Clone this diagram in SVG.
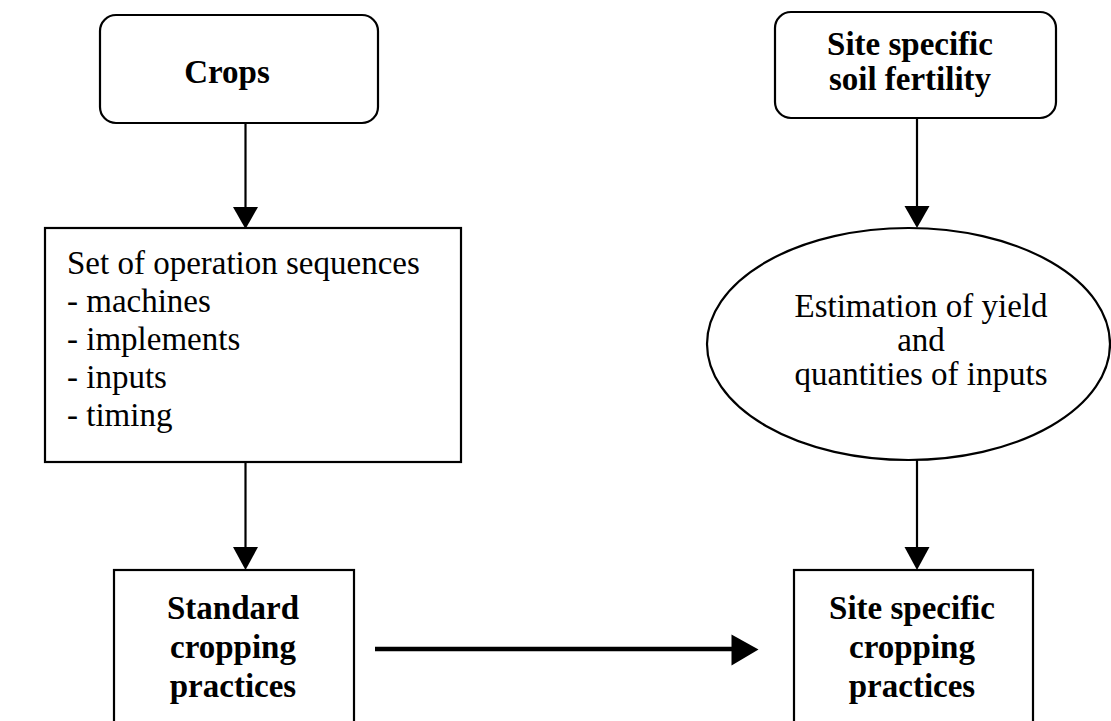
<svg xmlns="http://www.w3.org/2000/svg" width="1111" height="721" viewBox="0 0 1111 721">
  <defs>
    <style>
      .box { fill: #fff; stroke: #000; stroke-width: 2.2; }
      .t { font-family: "Liberation Serif", "Times New Roman", serif; font-size: 33px; fill: #000; }
      .b { font-weight: bold; }
      .c { text-anchor: middle; }
      .line { stroke: #000; stroke-width: 2.2; fill: none; }
      .thick { stroke: #000; stroke-width: 4.5; fill: none; }
      .head { fill: #000; }
    </style>
  </defs>
  <rect width="1111" height="721" fill="#fff"/>

  <g id="connectors">
    <!-- Crops to operation sequences -->
    <line class="line" x1="245.5" y1="123" x2="245.5" y2="208"/>
    <polygon class="head" points="233,207 258,207 245.5,229"/>
    <!-- operation sequences to standard practices -->
    <line class="line" x1="245.5" y1="462" x2="245.5" y2="548"/>
    <polygon class="head" points="233,547 258,547 245.5,570"/>
    <!-- soil fertility to estimation -->
    <line class="line" x1="917" y1="118" x2="917" y2="207"/>
    <polygon class="head" points="904.5,206 929.5,206 917,228"/>
    <!-- estimation to site specific practices -->
    <line class="line" x1="917" y1="460" x2="917" y2="548"/>
    <polygon class="head" points="904.5,547 929.5,547 917,570"/>
    <!-- standard to site specific practices -->
    <line class="thick" x1="375" y1="649" x2="733" y2="649"/>
    <polygon class="head" points="731.5,634.5 758.5,649.5 731.5,665.5"/>
  </g>

  <g id="crops">
    <rect class="box" x="100" y="15" width="278" height="108" rx="16"/>
    <text class="t b c" x="227" y="83">Crops</text>
  </g>

  <g id="soil-fertility">
    <rect class="box" x="775" y="12" width="281" height="106" rx="16"/>
    <text class="t b c" x="910" y="55">Site specific</text>
    <text class="t b c" x="910" y="90">soil fertility</text>
  </g>

  <g id="operation-sequences">
    <rect class="box" x="45" y="228" width="416" height="234"/>
    <text class="t" x="67" y="274">Set of operation sequences</text>
    <text class="t" x="67" y="312">- machines</text>
    <text class="t" x="67" y="350">- implements</text>
    <text class="t" x="67" y="388">- inputs</text>
    <text class="t" x="67" y="426">- timing</text>
  </g>

  <g id="estimation">
    <ellipse class="box" cx="908.5" cy="344" rx="201.5" ry="116"/>
    <text class="t c" x="921" y="317">Estimation of yield</text>
    <text class="t c" x="921" y="351">and</text>
    <text class="t c" x="921" y="385">quantities of inputs</text>
  </g>

  <g id="standard-practices">
    <rect class="box" x="114" y="570" width="240" height="170"/>
    <text class="t b c" x="233" y="619">Standard</text>
    <text class="t b c" x="233" y="658">cropping</text>
    <text class="t b c" x="233" y="697">practices</text>
  </g>

  <g id="site-practices">
    <rect class="box" x="794" y="570" width="239" height="170"/>
    <text class="t b c" x="912" y="619">Site specific</text>
    <text class="t b c" x="912" y="658">cropping</text>
    <text class="t b c" x="912" y="697">practices</text>
  </g>
</svg>
